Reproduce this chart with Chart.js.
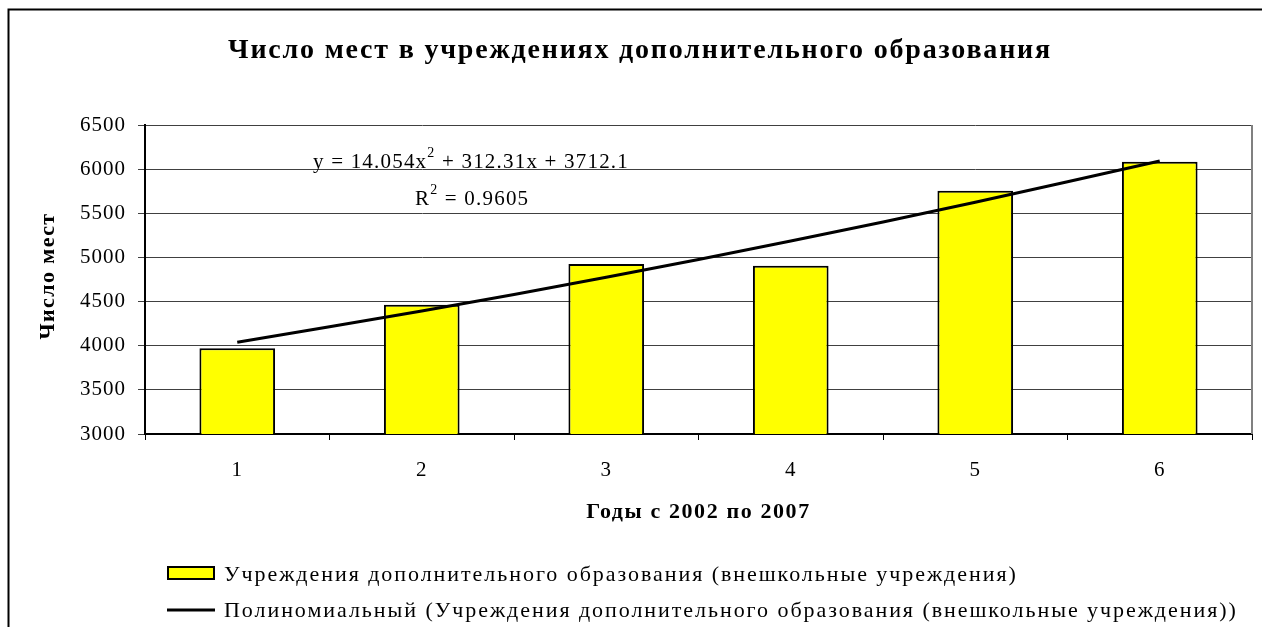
<!DOCTYPE html>
<html>
<head>
<meta charset="utf-8">
<script src="https://cdn.jsdelivr.net/npm/chart.js@4"></script>
<style>
  html, body { margin: 0; padding: 0; background: #fff; }
  #wrap { width: 1262px; height: 627px; position: relative; }
</style>
</head>
<body>
<div id="wrap"><canvas id="chart" width="1262" height="627"></canvas></div>
<script>
// Данные диаграммы
const categories = ['1', '2', '3', '4', '5', '6'];
const places = [3970, 4465, 4925, 4905, 5755, 6085];
const trendValues = [4040, 4393, 4776, 5186, 5625, 6092];
const yTicks = [3000, 3500, 4000, 4500, 5000, 5500, 6000, 6500];

const titleText = 'Число мест в учреждениях дополнительного образования';
const xTitleText = 'Годы с 2002 по 2007';
const yTitleText = 'Число мест';
const barLabel = 'Учреждения дополнительного образования (внешкольные учреждения)';
const trendLabel = 'Полиномиальный (Учреждения дополнительного образования (внешкольные учреждения))';

const SERIF = '"Liberation Serif", "Times New Roman", serif';

// Подписи, рамка и легенда рисуются поверх
const decorPlugin = {
    id: 'decor',
    beforeDraw(chart) {
        chart.ctx.letterSpacing = '1px';
    },
    afterDraw(chart) {
        const ctx = chart.ctx;
        const area = chart.chartArea;
        ctx.save();

        // внешняя рамка
        ctx.strokeStyle = '#000';
        ctx.lineWidth = 2;
        ctx.beginPath();
        ctx.moveTo(8.5, 640);
        ctx.lineTo(8.5, 9.5);
        ctx.lineTo(1270, 9.5);
        ctx.stroke();

        // правая граница области построения
        ctx.strokeStyle = '#808080';
        ctx.lineWidth = 2;
        ctx.beginPath();
        ctx.moveTo(area.right, area.top);
        ctx.lineTo(area.right, area.bottom);
        ctx.stroke();

        ctx.fillStyle = '#000';
        ctx.textBaseline = 'alphabetic';

        // заголовок
        ctx.font = 'bold 28px ' + SERIF;
        ctx.letterSpacing = '1.8px';
        ctx.textAlign = 'center';
        ctx.fillText(titleText, 640, 58);

        // подпись оси X
        ctx.font = 'bold 22px ' + SERIF;
        ctx.letterSpacing = '1.6px';
        ctx.fillText(xTitleText, (area.left + area.right) / 2, 518);

        // подпись оси Y
        ctx.save();
        ctx.translate(54, 276);
        ctx.rotate(-Math.PI / 2);
        ctx.letterSpacing = '1.4px';
        ctx.fillText(yTitleText, 0, 0);
        ctx.restore();

        // уравнение линии тренда
        const eqFont = '21px ' + SERIF;
        const supFont = '14px ' + SERIF;
        ctx.letterSpacing = '1.2px';
        ctx.textAlign = 'left';
        const drawSup = (parts, x, y) => {
            parts.forEach(p => {
                ctx.font = p.sup ? supFont : eqFont;
                ctx.fillText(p.t, x, p.sup ? y - 11 : y);
                x += ctx.measureText(p.t).width;
            });
        };
        drawSup([{ t: 'y = 14.054x' }, { t: '2', sup: true }, { t: ' + 312.31x + 3712.1' }], 313, 168);
        drawSup([{ t: 'R' }, { t: '2', sup: true }, { t: ' = 0.9605' }], 415, 205);

        // легенда
        ctx.font = '22px ' + SERIF;
        ctx.letterSpacing = '1.95px';
        ctx.fillStyle = '#ffff00';
        ctx.fillRect(168, 567, 46, 12);
        ctx.strokeStyle = '#000';
        ctx.lineWidth = 2;
        ctx.strokeRect(168, 567, 46, 12);
        ctx.fillStyle = '#000';
        ctx.fillText(barLabel, 224, 581);

        ctx.lineWidth = 3;
        ctx.beginPath();
        ctx.moveTo(167, 610);
        ctx.lineTo(215, 610);
        ctx.stroke();
        ctx.fillText(trendLabel, 224, 617);

        ctx.restore();
    }
};

new Chart(document.getElementById('chart'), {
    data: {
        labels: categories,
        datasets: [
            {
                type: 'line',
                label: trendLabel,
                data: trendValues,
                borderColor: '#000',
                borderWidth: 3,
                pointRadius: 0,
                tension: 0.4,
                fill: false,
                order: 0
            },
            {
                type: 'bar',
                label: barLabel,
                data: places,
                backgroundColor: '#ffff00',
                borderColor: '#000',
                borderWidth: 2,
                borderSkipped: false,
                categoryPercentage: 1.0,
                barPercentage: 0.41,
                order: 1
            }
        ]
    },
    options: {
        responsive: false,
        animation: false,
        layout: { padding: { top: 125, right: 10, left: 0, bottom: 0 } },
        plugins: {
            legend: { display: false },
            tooltip: { enabled: false }
        },
        scales: {
            x: {
                offset: true,
                grid: {
                    offset: true,
                    drawOnChartArea: false,
                    color: '#000',
                    tickLength: 6,
                    lineWidth: 1
                },
                border: { color: '#000', width: 2 },
                ticks: {
                    color: '#000',
                    font: { family: SERIF, size: 21 },
                    padding: 18,
                    maxRotation: 0
                },
                afterFit(scale) { scale.height = 193; }
            },
            y: {
                min: 3000,
                max: 6500,
                afterBuildTicks(scale) { scale.ticks = yTicks.map(v => ({ value: v })); },
                grid: {
                    color: '#404040',
                    lineWidth: 1,
                    tickLength: 7
                },
                border: { color: '#000', width: 2 },
                ticks: {
                    color: '#000',
                    font: { family: SERIF, size: 21 },
                    padding: 12,
                    callback: v => String(v)
                },
                afterFit(scale) { scale.width = 145; }
            }
        }
    },
    plugins: [decorPlugin]
});
</script>
</body>
</html>
